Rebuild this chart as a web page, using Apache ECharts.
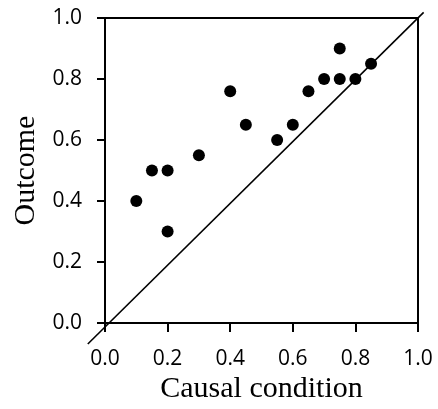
<!DOCTYPE html>
<html>
<head>
<meta charset="utf-8">
<script src="https://cdn.jsdelivr.net/npm/echarts@6/dist/echarts.min.js"></script>
<style>
  html, body { margin: 0; padding: 0; background: #fff; }
  #main { width: 438px; height: 409px; }
</style>
</head>
<body>
<div id="main"></div>
<script>
// causal condition (x) vs outcome (y)
const causal  = [0.10, 0.15, 0.20, 0.20, 0.30, 0.40, 0.45, 0.55, 0.60, 0.65, 0.70, 0.75, 0.75, 0.80, 0.85];
const outcome = [0.40, 0.50, 0.50, 0.30, 0.55, 0.76, 0.65, 0.60, 0.65, 0.76, 0.80, 0.80, 0.90, 0.80, 0.85];
// diagonal y = x, runs a bit past the box on both ends
const diagonal = [-0.055, 1.018];

// main box in pixels; a second, hidden grid with a wider range carries the diagonal
const box = { left: 105, right: 418, top: 18, bottom: 327 };
const lo = -0.06, hi = 1.03;
const bw = box.right - box.left, bh = box.bottom - box.top;

const chart = echarts.init(document.getElementById('main'));

const tickFont = { color: '#000', fontFamily: 'Open Sans', fontSize: 21 };
const nameFont = { color: '#000', fontFamily: 'Liberation Serif', fontSize: 30 };

chart.setOption({
  animation: false,
  grid: [
    {
      left: box.left, right: 438 - box.right, top: box.top, bottom: 409 - box.bottom,
      show: true,
      borderColor: '#000',
      borderWidth: 2
    },
    {
      left: box.left + lo * bw,
      right: 438 - (box.left + hi * bw),
      top: box.bottom - hi * bh,
      bottom: 409 - (box.bottom - lo * bh)
    }
  ],
  xAxis: [
    {
      type: 'value',
      min: 0, max: 1, interval: 0.2,
      name: 'Causal condition',
      nameLocation: 'middle',
      nameGap: 49,
      nameTextStyle: nameFont,
      axisLine: { lineStyle: { color: '#000', width: 2 } },
      axisTick: { show: true, length: 9, lineStyle: { color: '#000', width: 2 } },
      axisLabel: Object.assign({ margin: 25, formatter: v => v.toFixed(1) }, tickFont),
      splitLine: { show: false }
    },
    { gridIndex: 1, type: 'value', min: lo, max: hi, show: false }
  ],
  yAxis: [
    {
      type: 'value',
      min: 0, max: 1, interval: 0.2,
      name: 'Outcome',
      nameLocation: 'middle',
      nameGap: 64,
      nameTextStyle: nameFont,
      axisLine: { lineStyle: { color: '#000', width: 2 } },
      axisTick: { show: true, length: 8, lineStyle: { color: '#000', width: 2 } },
      axisLabel: Object.assign({ margin: 23, formatter: v => v.toFixed(1) }, tickFont),
      splitLine: { show: false }
    },
    { gridIndex: 1, type: 'value', min: lo, max: hi, show: false }
  ],
  series: [
    {
      type: 'line',
      xAxisIndex: 1, yAxisIndex: 1,
      data: diagonal.map(v => [v, v]),
      symbol: 'none',
      lineStyle: { color: '#000', width: 1.6 },
      z: 1
    },
    {
      type: 'scatter',
      data: causal.map((x, i) => [x, outcome[i]]),
      symbol: 'circle',
      symbolSize: 12,
      itemStyle: { color: '#000', opacity: 1 },
      z: 3
    }
  ]
});
</script>
</body>
</html>
